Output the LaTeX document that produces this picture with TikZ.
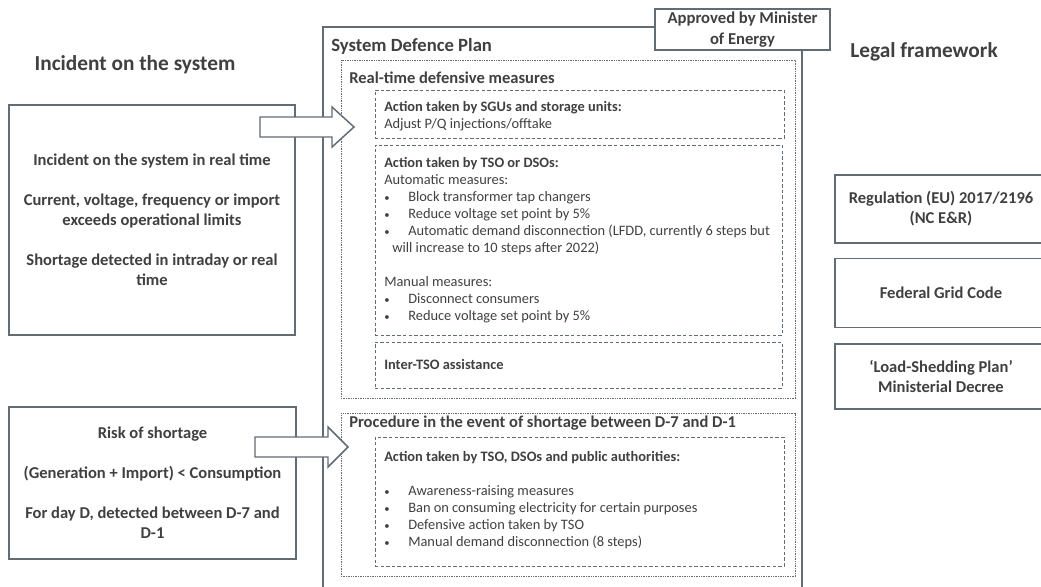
\documentclass[tikz,border=0pt]{standalone}
\usepackage{fontspec}
\setmainfont{Carlito}
\usetikzlibrary{positioning,calc}
\definecolor{txtgray}{RGB}{64,64,64}
\definecolor{linegray}{RGB}{98,108,116}
\newcommand{\pxu}{0.75pt}
\newcommand{\itm}{\makebox[18pt][l]{{\fontsize{8}{8}\selectfont\textbullet}}}

\begin{document}
\begin{tikzpicture}[x=0.75pt,y=-0.75pt,text=txtgray,
    box/.style={draw=linegray,line width=1.1pt,fill=white,inner sep=0pt},
    zone/.style={draw=linegray,line width=0.6pt,dash pattern=on 1pt off 0.8pt,inner sep=0pt},
    subbox/.style={draw=linegray,line width=0.7pt,dash pattern=on 2.6pt off 1.6pt,inner sep=0pt},
    head/.style={inner sep=0pt,font=\fontsize{16}{19}\selectfont\bfseries},
    boxtext/.style={align=center,font=\fontsize{12.4}{15}\selectfont\bfseries},
    title/.style={anchor=west,inner sep=0pt,font=\fontsize{12.4}{15}\selectfont\bfseries},
    small/.style={align=left,anchor=north west,inner sep=0pt,font=\fontsize{10.8}{12.75}\selectfont},
    blockarrow/.style={draw=linegray,line width=1.1pt,fill=white,line join=miter}]
  \useasboundingbox (0,0) rectangle (1041,586);

  % headings
  \node[head] (inchead) at (135,65) {Incident on the system};
  \node[head] (leghead) at (924,52) {Legal framework};

  % incidents
  \node[box,boxtext,minimum width=286*\pxu,minimum height=230*\pxu] (realtime) at (152,220)
    {Incident on the system in real time\\[15pt]
     Current, voltage, frequency or import\\exceeds operational limits\\[15pt]
     Shortage detected in intraday or real\\time};
  \node[box,boxtext,minimum width=287*\pxu,minimum height=152*\pxu] (risk) at (152.5,483)
    {Risk of shortage\\[15pt]
     (Generation + Import) < Consumption\\[15pt]
     For day D, detected between D-7 and\\D-1};

  % system defence plan
  \draw[draw=linegray,line width=1.1pt] (323,600) -- (323,27) -- (802,27) -- (802,600);
  \node[anchor=west,inner sep=0pt,font=\fontsize{14}{17}\selectfont\bfseries] (sdp) at (331,46) {System Defence Plan};
  \node[box,align=center,font=\fontsize{12.5}{15.75}\selectfont\bfseries,minimum width=175*\pxu,minimum height=41*\pxu] (approved) at (742.5,29.5)
    {Approved by Minister\\of Energy};

  \node[zone,minimum width=454*\pxu,minimum height=338*\pxu] (rtzone) at (568,229) {};
  \node[title] (rttitle) at (349,78) {Real-time defensive measures};

  \node[subbox,minimum width=409*\pxu,minimum height=48*\pxu] (sgu) at (579.5,114) {};
  \node[small] (sgutext) at (384,101.5)
    {\textbf{Action taken by SGUs and storage units:}\\
     Adjust P/Q injections/offtake};

  \node[subbox,minimum width=407*\pxu,minimum height=190*\pxu] (tso) at (578.5,240) {};
  \node[small] (tsotext) at (384,157.5)
    {\textbf{Action taken by TSO or DSOs:}\\
     Automatic measures:\\
     \itm Block transformer tap changers\\
     \itm Reduce voltage set point by 5\%\\
     \itm Automatic demand disconnection (LFDD, currently 6 steps but\\
     \hspace*{6pt}will increase to 10 steps after 2022)\\[12.75pt]
     Manual measures:\\
     \itm Disconnect consumers\\
     \itm Reduce voltage set point by 5\%};

  \node[subbox,minimum width=407*\pxu,minimum height=46*\pxu] (inter) at (578.5,365) {};
  \node[small,anchor=west] (intertext) at (384,364) {\textbf{Inter-TSO assistance}};

  \node[zone,minimum width=454*\pxu,minimum height=163*\pxu] (przone) at (568,494.5) {};
  \node[title] (prtitle) at (349,423) {Procedure in the event of shortage between D-7 and D-1};

  \node[subbox,minimum width=409*\pxu,minimum height=129*\pxu] (auth) at (579.5,501.5) {};
  \node[small] (authtext) at (384,451.5)
    {\textbf{Action taken by TSO, DSOs and public authorities:}\\[12.75pt]
     \itm Awareness-raising measures\\
     \itm Ban on consuming electricity for certain purposes\\
     \itm Defensive action taken by TSO\\
     \itm Manual demand disconnection (8 steps)};

  % arrows into the plan
  \coordinate (tipA) at (354,127);
  \coordinate (tipB) at (348,447);
  \draw[blockarrow] (tipA) -- ++(-22,-20) -- ++(0,10) -- ++(-72,0) -- ++(0,20) -- ++(72,0) -- ++(0,10) -- cycle;
  \draw[blockarrow] (tipB) -- ++(-20,-20) -- ++(0,10) -- ++(-73,0) -- ++(0,20) -- ++(73,0) -- ++(0,10) -- cycle;

  % legal framework
  \node[box,boxtext,minimum width=212*\pxu,minimum height=68*\pxu] (ncer) at (941,209)
    {Regulation (EU) 2017/2196\\(NC E\&R)};
  \node[box,boxtext,minimum width=212*\pxu,minimum height=69*\pxu,below=14*\pxu of ncer] (grid) {Federal Grid Code};
  \node[box,boxtext,minimum width=212*\pxu,minimum height=65*\pxu,below=15*\pxu of grid] (decree)
    {`Load-Shedding Plan'\\Ministerial Decree};
\end{tikzpicture}
\end{document}
